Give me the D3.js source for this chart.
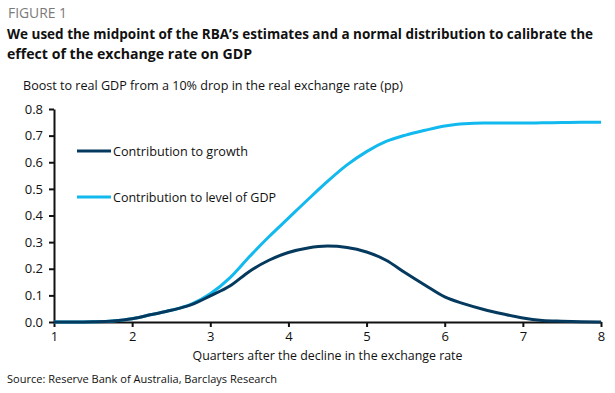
<!DOCTYPE html>
<html lang="en">
<head>
<meta charset="utf-8">
<title>Figure 1</title>
<style>
  body { margin: 0; background: #fff; }
  svg text { font-family: "Open Sans", "Noto Sans", sans-serif; }
</style>
</head>
<body>
<svg id="chart" width="615" height="393"></svg>
<script src="https://d3js.org/d3.v7.min.js"></script>
<script>
// quarters after the decline, in quarter-steps
const quarters = [1, 1.25, 1.5, 1.75, 2, 2.25, 2.5, 2.75, 3, 3.25, 3.5, 3.75, 4, 4.25, 4.5, 4.75,
  5, 5.25, 5.5, 5.75, 6, 6.25, 6.5, 6.75, 7, 7.25, 7.5, 7.75, 8];
const growth = [0, 0, 0.001, 0.004, 0.012, 0.028, 0.044, 0.064, 0.098, 0.135, 0.190, 0.232, 0.261, 0.278, 0.285, 0.280,
  0.263, 0.232, 0.184, 0.138, 0.094, 0.068, 0.047, 0.030, 0.015, 0.006, 0.003, 0.001, 0];
const level = [0, 0, 0.001, 0.004, 0.012, 0.028, 0.044, 0.066, 0.106, 0.166, 0.245, 0.320, 0.390, 0.460, 0.528, 0.590,
  0.640, 0.678, 0.702, 0.720, 0.736, 0.745, 0.747, 0.747, 0.747, 0.748, 0.749, 0.750, 0.750];
const xTicks = [1, 2, 3, 4, 5, 6, 7, 8];
const yTicks = [0, 0.1, 0.2, 0.3, 0.4, 0.5, 0.6, 0.7, 0.8];

const series = [
  { name: "Contribution to growth", values: growth, color: "#053a5e", len: 135 },
  { name: "Contribution to level of GDP", values: level, color: "#12b9ee", len: 163 }
];

const svg = d3.select("#chart");
const m = { left: 54, right: 601, top: 109, bottom: 322 };

const x = d3.scaleLinear().domain([1, 8]).range([m.left, m.right]);
const y = d3.scaleLinear().domain([0, 0.8]).range([m.bottom, m.top]);

// text helper: fit to the width seen in the reference
function label(tx, ty, str, size, width, opts = {}) {
  const t = svg.append("text").attr("x", tx).attr("y", ty)
    .attr("fill", opts.fill || "#111").attr("font-size", size)
    .attr("font-weight", opts.bold ? "bold" : null)
    .attr("text-anchor", opts.anchor || null)
    .text(str);
  if (width) t.attr("textLength", width).attr("lengthAdjust", "spacingAndGlyphs");
  return t;
}

// headings
label(8, 18, "FIGURE 1", 14, 59, { fill: "#7a7a7a" });
label(7, 39, "We used the midpoint of the RBA\u2019s estimates and a normal distribution to calibrate the", 13.5, 586, { bold: true });
label(7, 59, "effect of the exchange rate on GDP", 14, 245, { bold: true });
label(23, 90, "Boost to real GDP from a 10% drop in the real exchange rate (pp)", 13, 380);

// axes
const yAxis = svg.append("g").attr("transform", `translate(${m.left},0)`)
  .call(d3.axisLeft(y).tickValues(yTicks).tickFormat(d3.format(".1f")).tickSize(5).tickSizeOuter(0));
const xAxis = svg.append("g").attr("transform", `translate(0,${m.bottom})`)
  .call(d3.axisBottom(x).tickValues(xTicks).tickFormat(d3.format("d")).tickSize(5).tickSizeOuter(0));

[xAxis, yAxis].forEach(g => {
  g.select(".domain").attr("stroke", "#111").attr("stroke-width", 2);
  g.selectAll(".tick line").attr("stroke", "#111").attr("stroke-width", 2);
  g.selectAll(".tick text").attr("fill", "#111").attr("font-size", 13)
    .style("font-family", "'Open Sans', 'Noto Sans', sans-serif");
});
yAxis.selectAll(".tick text").attr("x", -11);
xAxis.selectAll(".tick text").attr("y", 10);

label((m.left + m.right) / 2, 360, "Quarters after the decline in the exchange rate", 13.5, 270, { anchor: "middle" });
label(7, 383, "Source: Reserve Bank of Australia, Barclays Research", 11.5, 270);

// lines
const line = d3.line().x((d, i) => x(quarters[i])).y(d => y(d)).curve(d3.curveMonotoneX);
svg.selectAll("path.series").data(series.slice().reverse()).enter().append("path")
  .attr("class", "series")
  .attr("d", d => line(d.values))
  .attr("fill", "none")
  .attr("stroke", d => d.color)
  .attr("stroke-width", 3);

// legend
const legend = svg.selectAll("g.legend").data(series).enter().append("g")
  .attr("class", "legend")
  .attr("transform", (d, i) => `translate(77,${151 + i * 46})`);
legend.append("line").attr("x1", 0).attr("x2", 34).attr("y1", 0).attr("y2", 0)
  .attr("stroke", d => d.color).attr("stroke-width", 3);
legend.append("text").attr("x", 36).attr("y", 5)
  .attr("fill", "#111").attr("font-size", 13)
  .attr("textLength", d => d.len).attr("lengthAdjust", "spacingAndGlyphs")
  .text(d => d.name);
</script>
</body>
</html>
